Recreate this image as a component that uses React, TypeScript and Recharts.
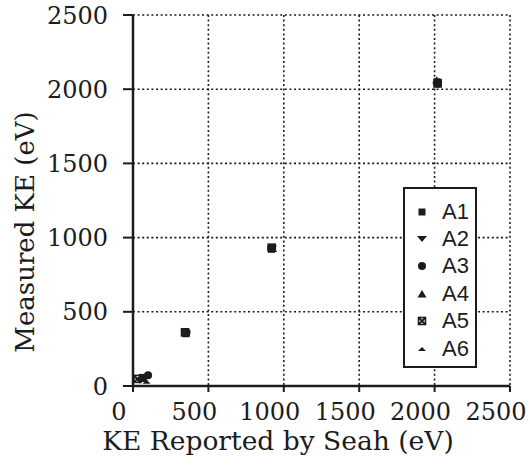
import React from 'react';
import { ScatterChart, Scatter, XAxis, YAxis, CartesianGrid, Legend } from 'recharts';

// ---------- data ----------
const seriesNames = ['A1', 'A2', 'A3', 'A4', 'A5', 'A6'];
const axisTicks = [0, 500, 1000, 1500, 2000, 2500];

const a1Seah = [62, 351, 919, 2016];
const a1Measured = [58, 352, 921, 2050];
const a2Seah = [45, 348, 922, 2018];
const a2Measured = [35, 356, 925, 2030];
const a3Seah = [100, 355, 916, 2022];
const a3Measured = [72, 362, 930, 2038];
const a4Seah = [72, 350, 925, 2014];
const a4Measured = [50, 358, 928, 2060];
const a5Seah = [30, 345, 920, 2020];
const a5Measured = [48, 362, 932, 2040];
const a6Seah = [90, 352, 918, 2019];
const a6Measured = [28, 350, 926, 2025];

const seahBySeries = [a1Seah, a2Seah, a3Seah, a4Seah, a5Seah, a6Seah];
const measuredBySeries = [a1Measured, a2Measured, a3Measured, a4Measured, a5Measured, a6Measured];

const INK = '#1c1c1c';
const SERIF = '"DejaVu Serif", serif';
const SANS = '"Liberation Sans", Arial, sans-serif';

// ---------- marker shapes ----------
const drawSquare = (cx: number, cy: number) => (
  <rect x={cx - 3.5} y={cy - 3.5} width={7} height={7} fill={INK} />
);
const drawDown = (cx: number, cy: number) => (
  <polygon points={`${cx - 5},${cy - 3} ${cx + 5},${cy - 3} ${cx},${cy + 3}`} fill={INK} />
);
const drawCircle = (cx: number, cy: number) => <circle cx={cx} cy={cy} r={4} fill={INK} />;
const drawUp = (cx: number, cy: number) => (
  <polygon points={`${cx - 4.5},${cy + 3.5} ${cx + 4.5},${cy + 3.5} ${cx},${cy - 4}`} fill={INK} />
);
const drawBowtie = (cx: number, cy: number) => (
  <g>
    <rect x={cx - 3.5} y={cy - 3.5} width={7} height={7} fill="none" stroke={INK} strokeWidth={1.6} />
    <path d={`M${cx - 3.5},${cy - 3.5} L${cx + 3.5},${cy + 3.5} M${cx + 3.5},${cy - 3.5} L${cx - 3.5},${cy + 3.5}`} stroke={INK} strokeWidth={1.8} />
  </g>
);
const drawSmallUp = (cx: number, cy: number) => (
  <polygon points={`${cx - 4},${cy + 2} ${cx + 4},${cy + 2} ${cx},${cy - 2}`} fill={INK} />
);

const drawers = [drawSquare, drawDown, drawCircle, drawUp, drawBowtie, drawSmallUp];

const makeShape = (i: number) => (props: any) => {
  const { cx, cy } = props;
  if (cx == null || cy == null) return <g />;
  return drawers[i](cx, cy);
};

// ---------- ticks & labels ----------
const XTick = (props: any) => {
  const { x, y, payload } = props;
  return (
    <text x={x - 14} y={y + 26} textAnchor="middle" fontFamily={SERIF} fontSize={24} fill={INK}>
      {payload.value}
    </text>
  );
};

const YTick = (props: any) => {
  const { x, y, payload } = props;
  return (
    <text x={x} y={y} dy="0.36em" textAnchor="end" fontFamily={SERIF} fontSize={24} fill={INK}>
      {payload.value}
    </text>
  );
};

const XTitle = () => (
  <text x={278} y={450} textAnchor="middle" fontFamily={SERIF} fontSize={26.5} fill={INK}>
    KE Reported by Seah (eV)
  </text>
);

const YTitle = () => (
  <text
    x={25}
    y={232}
    transform="rotate(-90, 25, 232)"
    textAnchor="middle"
    dy="0.36em"
    fontFamily={SERIF}
    fontSize={26}
    fill={INK}
  >
    Measured KE (eV)
  </text>
);

const renderLegend = () => (
  <div
    style={{
      width: 74,
      height: 181,
      border: `2px solid ${INK}`,
      background: '#fff',
      boxSizing: 'border-box',
      paddingTop: 9,
    }}
  >
    {seriesNames.map((name, i) => (
      <div key={name} style={{ display: 'flex', alignItems: 'center', height: 27.4 }}>
        <svg width={37} height={20} style={{ display: 'block' }}>
          {drawers[i](17, 10)}
        </svg>
        <span style={{ fontFamily: SANS, fontSize: 22, color: INK, lineHeight: '20px' }}>{name}</span>
      </div>
    ))}
  </div>
);

export default function App() {
  const seriesData = seriesNames.map((_, i) =>
    seahBySeries[i].map((x, j) => ({ x, y: measuredBySeries[i][j] }))
  );

  return (
    <div style={{ position: 'absolute', left: 0, top: 0, width: 530, height: 467, background: '#fff' }}>
      <ScatterChart width={530} height={467} margin={{ top: 15, right: 20, left: 0, bottom: 0 }}>
        <CartesianGrid stroke={INK} strokeDasharray="2 2.6" strokeWidth={1.6} />
        <XAxis
          type="number"
          dataKey="x"
          domain={[0, 2500]}
          ticks={axisTicks}
          interval={0}
          height={81}
          tickSize={6}
          axisLine={{ stroke: INK, strokeWidth: 2.5 }}
          tickLine={{ stroke: INK, strokeWidth: 2 }}
          tick={<XTick />}
          label={<XTitle />}
        />
        <YAxis
          type="number"
          dataKey="y"
          domain={[0, 2500]}
          ticks={axisTicks}
          interval={0}
          width={133}
          tickSize={10}
          tickMargin={15}
          axisLine={{ stroke: INK, strokeWidth: 2.5 }}
          tickLine={{ stroke: INK, strokeWidth: 2 }}
          tick={<YTick />}
          label={<YTitle />}
        />
        <Legend
          layout="vertical"
          align="center"
          verticalAlign="middle"
          content={renderLegend}
          wrapperStyle={{ position: 'absolute', left: 403, top: 187, right: 'auto', bottom: 'auto', width: 74 }}
        />
        {seriesNames.map((name, i) => (
          <Scatter
            key={name}
            name={name}
            data={seriesData[i]}
            fill={INK}
            shape={makeShape(i)}
            isAnimationActive={false}
          />
        ))}
      </ScatterChart>
    </div>
  );
}
